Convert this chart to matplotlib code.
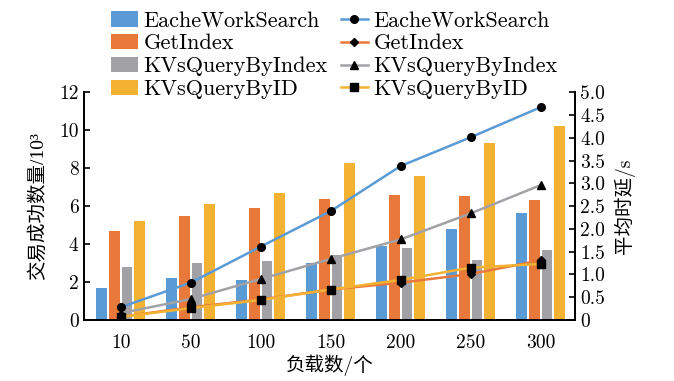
import matplotlib
matplotlib.use('Agg')
import matplotlib.pyplot as plt
import numpy as np

plt.rcParams['font.family'] = ['cmr10', 'Noto Sans CJK SC']
plt.rcParams['axes.unicode_minus'] = False

loads = ['10', '50', '100', '150', '200', '250', '300']
names = ['EacheWorkSearch', 'GetIndex', 'KVsQueryByIndex', 'KVsQueryByID']
colors = ['#5B9BD5', '#E8793A', '#A2A2A6', '#F4B233']
markers = ['o', 'D', '^', 's']

# successful transactions (10^3), left axis
success = [
    [1.70, 2.19, 2.10, 3.00, 3.91, 4.77, 5.65],
    [4.68, 5.46, 5.92, 6.39, 6.58, 6.51, 6.32],
    [2.77, 3.03, 3.13, 3.42, 3.82, 3.14, 3.70],
    [5.24, 6.13, 6.67, 8.28, 7.60, 9.30, 10.20],
]
# average latency (s), right axis
latency = [
    [0.28, 0.82, 1.61, 2.39, 3.38, 4.01, 4.67],
    [0.07, 0.28, 0.45, 0.67, 0.82, 1.01, 1.31],
    [0.15, 0.46, 0.90, 1.34, 1.77, 2.34, 2.96],
    [0.07, 0.26, 0.44, 0.67, 0.88, 1.15, 1.23],
]

x = np.arange(len(loads))
fig = plt.figure(figsize=(6.74, 3.81), dpi=100)
ax = fig.add_axes([0.125, 0.16, 0.728, 0.598])
ax2 = ax.twinx()

bar_handles = []
step = 0.18
for i in range(4):
    b = ax.bar(x + (i - 1.5)*step, success[i], width=0.15, color=colors[i], label=names[i])
    bar_handles.append(b)

line_handles = []
for i in range(4):
    ms = 4 if markers[i] == 'D' else 5.5
    l, = ax2.plot(x, latency[i], color=colors[i], lw=1.8, marker=markers[i],
                  markersize=ms, markerfacecolor='black', markeredgecolor='black',
                  label=names[i])
    line_handles.append(l)

ax.set_xlim(-0.52, 6.49)
ax.set_ylim(0, 12)
ax2.set_ylim(0, 5)
ax.set_yticks(np.arange(0, 13, 2))
ax2.set_yticks(np.arange(0, 5.01, 0.5))
ax2.set_yticklabels(['0'] + ['%.1f' % v for v in np.arange(0.5, 5.01, 0.5)])
ax.set_xticks(x)
ax.set_xticklabels(loads)

for a in (ax, ax2):
    a.spines['top'].set_visible(False)
    for s in ('left', 'right', 'bottom'):
        a.spines[s].set_linewidth(1.3)
    a.tick_params(labelsize=14, direction='in', length=4, width=1.2, pad=4)
ax.tick_params(axis='x', length=0, pad=10)

ax.set_xlabel('负载数/个', fontsize=14, labelpad=2)
ax.set_ylabel('交易成功数量/10³', fontsize=14, labelpad=9,
              family=['Liberation Serif', 'Noto Sans CJK SC'])
ax2.set_ylabel('平均时延/s', fontsize=14, labelpad=6)

leg = ax2.legend(bar_handles + line_handles, names + names, ncol=2,
                 loc='lower center', bbox_to_anchor=(0.51, 0.93), frameon=False,
                 fontsize=16, handlelength=1.2, handletextpad=0.25,
                 columnspacing=0.6, labelspacing=0.15, borderaxespad=0)

fig.savefig('out.png', dpi=100)
